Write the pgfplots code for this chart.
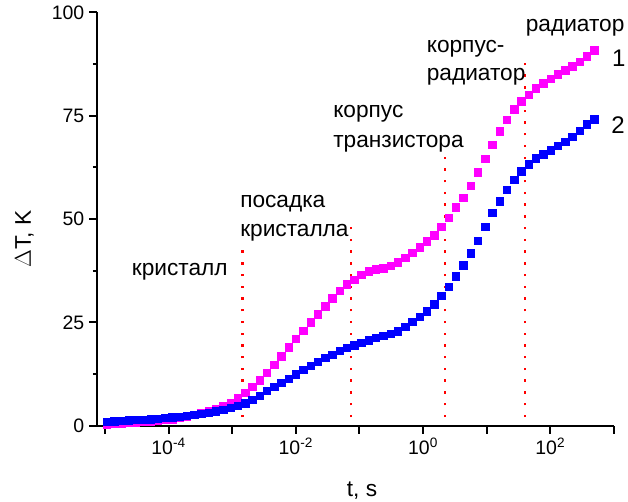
\documentclass[border=0pt]{standalone}
\usepackage{pgfplots}
\pgfplotsset{compat=1.18}
\usepackage{fontspec}
\setmainfont{Liberation Sans}
\definecolor{mag}{RGB}{255,0,255}
\definecolor{blu}{RGB}{0,0,255}
\definecolor{dotred}{RGB}{255,0,0}
\newcommand{\annfont}{\fontsize{17}{21}\selectfont}
\begin{document}
\begin{tikzpicture}
\begin{axis}[
  scale only axis,
  width=387.75pt, height=310pt,
  xmode=log,
  xmin=7.49e-6, xmax=1e3,
  ymin=0, ymax=100,
  enlargelimits=false,
  axis lines=left,
  axis line style={-, line width=1.5pt, black},
  tick style={line width=1.5pt, black},
  tick align=outside,
  major tick length=6pt,
  minor tick length=3pt,
  xtick={1e-5,1e-4,1e-3,1e-2,1e-1,1,1e1,1e2,1e3},
  xticklabels={,10\textsuperscript{-4},,10\textsuperscript{-2},,10\textsuperscript{0},,10\textsuperscript{2},},
  xminorticks=false,
  ytick={0,25,50,75,100},
  minor ytick={12.5,37.5,62.5,87.5},
  /pgf/number format/assume math mode=true,
  tick label style={font=\fontsize{14.6}{16}\selectfont},
  xlabel={t, s},
  ylabel={$\Delta$T, K},
  label style={font=\annfont},
  xlabel style={at={(axis description cs:0.5126,-0.172)}, anchor=base},
  ylabel style={at={(axis description cs:-0.128,0.452)}, anchor=base},
  clip=false,
]
% series 1 (magenta)
\addplot[only marks, mark=square*, mark size=2.8pt, color=mag, mark options={fill=mag, draw=mag}] coordinates {
(1.072e-5,0.4) (1.394e-5,0.5) (1.814e-5,0.6) (2.360e-5,0.7) (3.071e-5,0.8)
(3.995e-5,0.9) (5.197e-5,1.0) (6.763e-5,1.2) (8.800e-5,1.4) (1.145e-4,1.6)
(1.489e-4,1.9) (1.938e-4,2.2) (2.521e-4,2.6) (3.281e-4,3.0) (4.268e-4,3.5)
(5.553e-4,4.1) (7.225e-4,4.8) (9.400e-4,5.6) (1.223e-3,6.6) (1.591e-3,8.0)
(2.070e-3,9.4) (2.694e-3,11.0) (3.504e-3,12.8) (4.559e-3,14.8) (5.932e-3,16.8)
(7.718e-3,19.0) (1.004e-2,21.0) (1.306e-2,23.0) (1.700e-2,25.0) (2.211e-2,27.0)
(2.877e-2,28.9) (3.744e-2,30.8) (4.871e-2,32.6) (6.338e-2,34.2) (8.246e-2,35.3)
(1.073e-1,36.5) (1.396e-1,37.4) (1.816e-1,37.8) (2.363e-1,38.1) (3.075e-1,38.7)
(4.000e-1,39.5) (5.204e-1,40.6) (6.771e-1,41.9) (8.810e-1,43.2) (1.146,44.6)
(1.491,46.1) (1.940,48.2) (2.524,50.3) (3.284,52.8) (4.273,55.2)
(5.559,58.0) (7.233,61.3) (9.410,64.6) (12.24,68.0) (15.93,71.2)
(20.73,74.0) (26.97,76.6) (35.09,78.5) (45.65,80.1) (59.39,81.7)
(77.27,82.9) (100.5,83.9) (130.8,85.0) (170.2,86.0) (221.4,87.0)
(288.1,88.0) (374.8,89.4) (487.6,90.8)
};
% series 2 (blue)
\addplot[only marks, mark=square*, mark size=2.8pt, color=blu, mark options={fill=blu, draw=blu}] coordinates {
(1.072e-5,1.0) (1.394e-5,1.1) (1.814e-5,1.2) (2.360e-5,1.3) (3.071e-5,1.4)
(3.995e-5,1.5) (5.197e-5,1.6) (6.763e-5,1.7) (8.800e-5,1.9) (1.145e-4,2.0)
(1.489e-4,2.2) (1.938e-4,2.4) (2.521e-4,2.6) (3.281e-4,2.9) (4.268e-4,3.2)
(5.553e-4,3.5) (7.225e-4,3.9) (9.400e-4,4.3) (1.223e-3,4.8) (1.591e-3,5.4)
(2.070e-3,6.3) (2.694e-3,7.3) (3.504e-3,8.4) (4.559e-3,9.4) (5.932e-3,10.4)
(7.718e-3,11.4) (1.004e-2,12.4) (1.306e-2,13.5) (1.700e-2,14.5) (2.211e-2,15.5)
(2.877e-2,16.4) (3.744e-2,17.2) (4.871e-2,18.1) (6.338e-2,18.8) (8.246e-2,19.5)
(1.073e-1,20.1) (1.396e-1,20.7) (1.816e-1,21.3) (2.363e-1,21.8) (3.075e-1,22.3)
(4.000e-1,22.9) (5.204e-1,23.9) (6.771e-1,25.1) (8.810e-1,26.3) (1.146,27.7)
(1.491,29.4) (1.940,31.5) (2.524,33.6) (3.284,36.2) (4.273,38.8)
(5.559,41.7) (7.233,44.8) (9.410,48.2) (12.24,51.5) (15.93,54.3)
(20.73,57.1) (26.97,59.5) (35.09,61.6) (45.65,63.3) (59.39,64.7)
(77.27,65.7) (100.5,66.7) (130.8,67.7) (170.2,68.7) (221.4,69.9)
(288.1,71.3) (374.8,72.9) (487.6,74.2)
};
% boundaries (red dotted)
\addplot[dotred, line width=1.6pt, dash pattern=on 1.8pt off 7pt, no marks] coordinates {(1.452e-3,2.1) (1.452e-3,42.5)};
\addplot[dotred, line width=1.6pt, dash pattern=on 1.8pt off 7pt, no marks] coordinates {(7.46e-2,2.1) (7.46e-2,49.7)};
\addplot[dotred, line width=1.6pt, dash pattern=on 1.8pt off 7pt, no marks] coordinates {(2.23,2.1) (2.23,66.0)};
\addplot[dotred, line width=1.6pt, dash pattern=on 1.8pt off 7pt, no marks] coordinates {(40.3,2.1) (40.3,88.1)};
% annotations
\node[anchor=base west, inner sep=0pt, font=\annfont] at (rel axis cs:0.0671,0.3646) {кристалл};
\node[anchor=base west, inner sep=0pt, font=\annfont] at (rel axis cs:0.2766,0.5284) {посадка};
\node[anchor=base west, inner sep=0pt, font=\annfont] at (rel axis cs:0.2766,0.4573) {кристалла};
\node[anchor=base west, inner sep=0pt, font=\annfont] at (rel axis cs:0.4565,0.7447) {корпус};
\node[anchor=base west, inner sep=0pt, font=\annfont] at (rel axis cs:0.4565,0.6738) {транзистора};
\node[anchor=base west, inner sep=0pt, font=\annfont] at (rel axis cs:0.6375,0.9025) {корпус-};
\node[anchor=base west, inner sep=0pt, font=\annfont] at (rel axis cs:0.6375,0.8347) {радиатор};
\node[anchor=base west, inner sep=0pt, font=\annfont] at (rel axis cs:0.8290,0.9533) {радиатор};
\node[anchor=base west, inner sep=0pt, font=\fontsize{18}{21}\selectfont] at (rel axis cs:0.9961,0.8686) {1};
\node[anchor=base west, inner sep=0pt, font=\fontsize{18}{21}\selectfont] at (rel axis cs:0.9942,0.7058) {2};
\end{axis}
\pgfresetboundingbox
\path (-72.75pt,-57.2pt) rectangle (398.25pt,319.3pt);
\end{tikzpicture}
\end{document}
